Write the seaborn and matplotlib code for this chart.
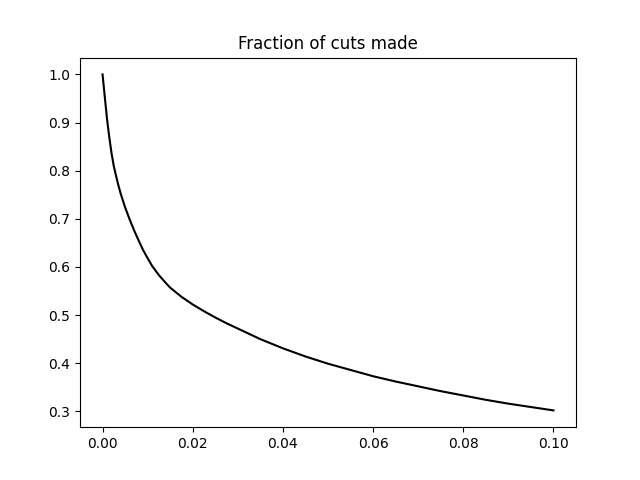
import matplotlib
matplotlib.use("Agg")
import matplotlib.pyplot as plt
import seaborn as sns

# values
cut_size = [0.0, 0.0005, 0.001, 0.0015, 0.002, 0.0025, 0.003, 0.0035, 0.004,
            0.005, 0.006, 0.007, 0.008, 0.009, 0.010, 0.011, 0.0125, 0.014,
            0.015, 0.0175, 0.02, 0.0225, 0.025, 0.0275, 0.03, 0.035, 0.04,
            0.045, 0.05, 0.055, 0.06, 0.065, 0.07, 0.075, 0.08, 0.085, 0.09,
            0.095, 0.10]
fraction_made = [1.0, 0.953, 0.907, 0.869, 0.836, 0.809, 0.789, 0.770, 0.753,
                 0.724, 0.699, 0.676, 0.655, 0.635, 0.618, 0.602, 0.583, 0.567,
                 0.557, 0.538, 0.522, 0.508, 0.495, 0.483, 0.472, 0.450, 0.431,
                 0.414, 0.399, 0.386, 0.373, 0.362, 0.352, 0.342, 0.333, 0.324,
                 0.316, 0.309, 0.302]

fig, ax = plt.subplots(figsize=(6.4, 4.8), dpi=100)

sns.lineplot(x=cut_size, y=fraction_made, color="black", linewidth=1.5, ax=ax)

ax.set_title("Fraction of cuts made")

fig.savefig("out.png")
